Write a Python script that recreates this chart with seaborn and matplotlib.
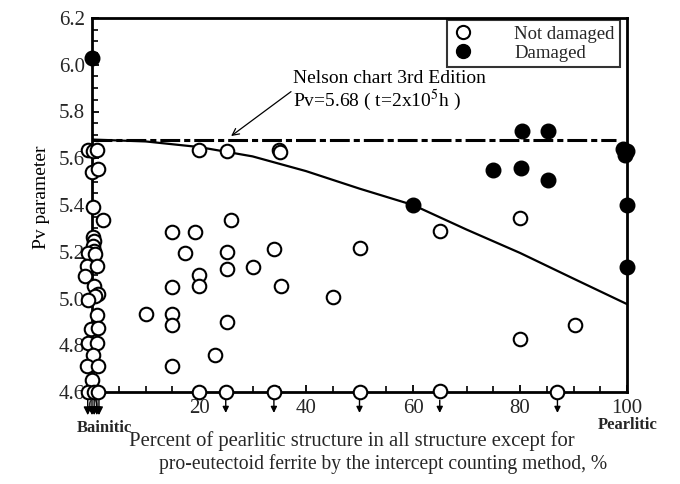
import matplotlib
matplotlib.use("Agg")
import matplotlib.pyplot as plt
from matplotlib.lines import Line2D
from matplotlib.ticker import MultipleLocator, FormatStrFormatter
import seaborn as sns
import pandas as pd

# Specimens without damage: percent pearlitic structure vs Pv parameter
not_damaged_x = [
    -0.8, 0.2, 1.0, 0.0, 1.1, 0.1, 2.0, 0.2, 0.3, 0.2, 0.4, -0.8, 0.5,
    -0.9, 1.0, -1.3, 0.3, 1.1, 0.6, -0.8, 1.0, -0.1, 1.2, -0.8, 1.0, 0.2,
    -1.0, 1.2, 0.0, -0.8, 0.3, 1.2,
    10, 15, 15, 15, 15, 15, 17.3, 19.2, 20, 20, 20, 23, 25.2, 25.2, 25.2,
    25.2, 26, 30, 34, 35, 35.2, 35.3, 45, 50, 65, 80, 80, 90.3,
    20, 25, 34, 50, 65, 87,
]
not_damaged_y = [
    5.635, 5.63, 5.635, 5.54, 5.555, 5.39, 5.335, 5.265, 5.245, 5.225, 5.205, 5.195, 5.19,
    5.14, 5.14, 5.095, 5.055, 5.02, 5.01, 4.995, 4.93, 4.87, 4.875, 4.81, 4.81, 4.76,
    4.71, 4.71, 4.65, 4.6, 4.6, 4.6,
    4.935, 5.285, 5.05, 4.935, 4.885, 4.71, 5.195, 5.285, 5.10, 5.055, 5.635, 4.76, 5.63, 5.20, 5.125,
    4.90, 5.335, 5.135, 5.21, 5.635, 5.625, 5.055, 5.005, 5.215, 5.29, 5.345, 4.825, 4.885,
    4.6, 4.6, 4.6, 4.6, 4.605, 4.6,
]

# Damaged specimens
damaged_x = [0, 60, 75, 80.2, 85.2, 80.4, 85.2, 99.2, 100, 99.6, 100, 100]
damaged_y = [6.03, 5.40, 5.55, 5.56, 5.505, 5.717, 5.717, 5.64, 5.63, 5.615, 5.40, 5.135]

# Points whose Pv lies below the plotted range (drawn with a down arrow)
below_range_x = [-0.8, 0.0, 0.4, 0.9, 1.3, 25, 34, 50, 65, 87]

# Boundary curve separating damaged / not damaged
curve_x = [0, 10, 20, 30, 40, 50, 60, 70, 80, 90, 100]
curve_y = [5.68, 5.672, 5.648, 5.608, 5.545, 5.47, 5.40, 5.295, 5.195, 5.085, 4.976]

# Nelson chart reference level
nelson_pv = 5.68
nelson_x = [0, 98]

x_ticks = [0, 20, 40, 60, 80, 100]
y_ticks = [4.6, 4.8, 5.0, 5.2, 5.4, 5.6, 5.8, 6.0, 6.2]

sns.set_theme(style="white")
plt.rcParams["font.family"] = ["Liberation Serif", "DejaVu Serif"]
plt.rcParams["mathtext.fontset"] = "stix"

fig = plt.figure(figsize=(6.8, 4.84), dpi=100)
ax = fig.add_axes([92 / 680, 1 - 392 / 484, 535 / 680, 374 / 484])

nd = pd.DataFrame({"x": not_damaged_x, "y": not_damaged_y})
dm = pd.DataFrame({"x": damaged_x, "y": damaged_y})
cv = pd.DataFrame({"x": curve_x, "y": curve_y})

sns.lineplot(data=cv, x="x", y="y", ax=ax, color="black", linewidth=1.6,
             sort=True, legend=False, zorder=2)
line, = ax.plot(nelson_x, [nelson_pv, nelson_pv], color="black", linewidth=2.2,
                zorder=2, solid_capstyle="butt")
line.set_dashes((6.5, 1.3, 2, 1.3))

sns.scatterplot(data=nd, x="x", y="y", ax=ax, s=95, facecolor="white",
                edgecolor="black", linewidth=1.5, zorder=4, clip_on=False)
sns.scatterplot(data=dm, x="x", y="y", ax=ax, s=110, color="black",
                edgecolor="black", linewidth=1, zorder=5, clip_on=False)

for xb in below_range_x:
    big = xb < 5
    ax.annotate("", xy=(xb, -0.062 if big else -0.056), xytext=(xb, -0.022),
                xycoords=ax.get_xaxis_transform(),
                textcoords=ax.get_xaxis_transform(),
                arrowprops=dict(arrowstyle="-|>", color="black", lw=1.0,
                                mutation_scale=12 if big else 9,
                                shrinkA=0, shrinkB=0),
                annotation_clip=False)

ax.set_xlim(0, 100)
ax.set_ylim(4.6, 6.2)
ax.set_xticks(x_ticks)
ax.set_yticks(y_ticks)
ax.xaxis.set_minor_locator(MultipleLocator(5))
ax.yaxis.set_minor_locator(MultipleLocator(0.05))
ax.yaxis.set_major_formatter(FormatStrFormatter("%.1f"))
ax.tick_params(axis="both", which="both", direction="in", bottom=True, left=True,
               top=False, right=False, color="black", labelsize=15)
ax.tick_params(axis="y", pad=5)
ax.tick_params(axis="x", pad=5)
ax.tick_params(which="major", length=5, width=1.3)
ax.tick_params(which="minor", length=4, width=1.2)
for sp in ax.spines.values():
    sp.set_color("black")
    sp.set_linewidth(2.0)

ax.set_xlabel("")
ax.set_ylabel("Pv parameter", fontsize=14, color="black")
ax.yaxis.set_label_coords(-0.078, 0.52)

# Reference annotation with leader arrow
ax.annotate("", xy=(26.0, nelson_pv + 0.015), xytext=(37.2, 5.885),
            arrowprops=dict(arrowstyle="->", color="black", lw=0.9,
                            mutation_scale=12, shrinkA=0, shrinkB=0))
ax.text(37.6, 5.92, "Nelson chart 3rd Edition", fontsize=14, ha="left",
        va="baseline", color="black")
ax.text(37.6, 5.822, r"Pv=5.68 ( t=2x10$^{5}$h )", fontsize=14, ha="left",
        va="baseline", color="black")

handles = [
    Line2D([], [], marker="o", linestyle="none", markerfacecolor="white",
           markeredgecolor="black", markeredgewidth=1.5, markersize=9.5),
    Line2D([], [], marker="o", linestyle="none", markerfacecolor="black",
           markeredgecolor="black", markersize=10),
]
leg = ax.legend(handles, ["Not damaged", "Damaged"], loc="upper right",
                bbox_to_anchor=(0.987, 0.995), frameon=True, fancybox=False,
                fontsize=13.5, handletextpad=2.1, borderpad=0.3,
                labelspacing=0.1, handlelength=1.2, borderaxespad=0)
leg.get_frame().set_edgecolor("black")
leg.get_frame().set_linewidth(1.5)

fig.text(104 / 680, 1 - 428 / 484, "Bainitic", fontsize=12, fontweight="bold",
         ha="center", va="center")
fig.text(628 / 680, 1 - 425 / 484, "Pearlitic", fontsize=12, fontweight="bold",
         ha="center", va="center")
fig.text(129 / 680, 1 - 441 / 484,
         "Percent of pearlitic structure in all structure except for",
         fontsize=14.9, ha="left", va="center")
fig.text(159 / 680, 1 - 464 / 484,
         "pro-eutectoid ferrite by the intercept counting method, %",
         fontsize=14.1, ha="left", va="center")

fig.savefig("out.png", dpi=100, facecolor="white")
